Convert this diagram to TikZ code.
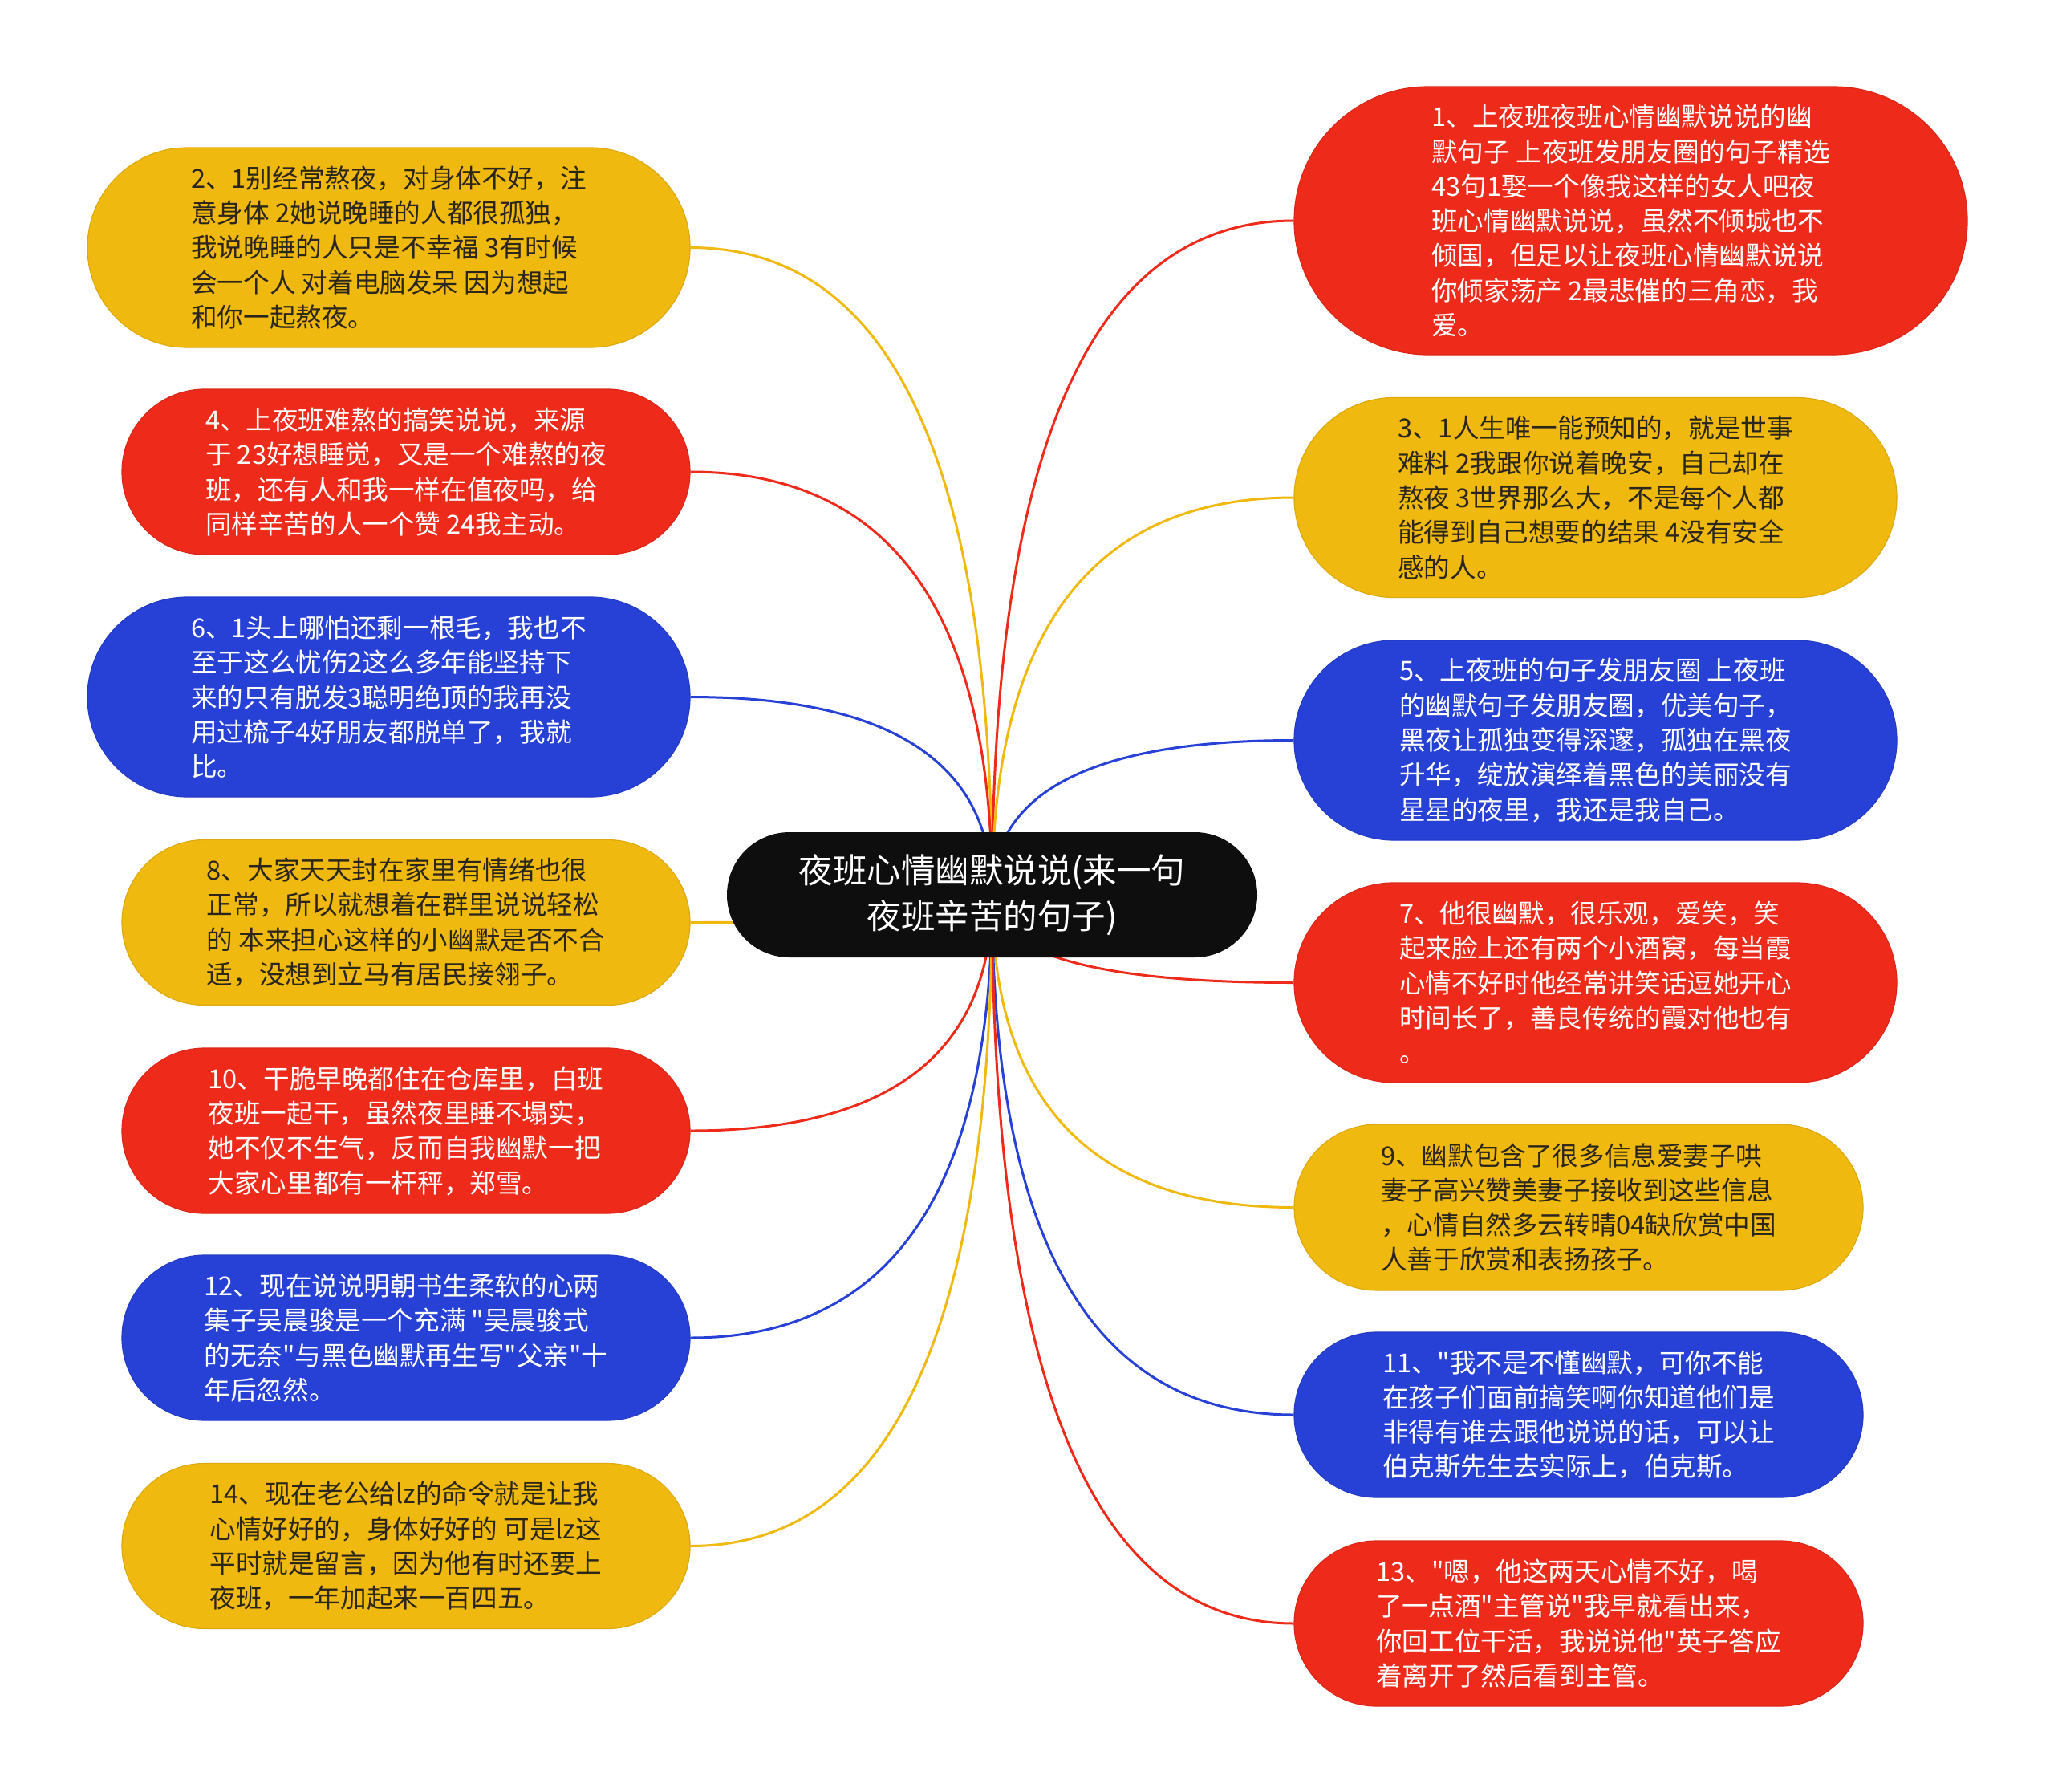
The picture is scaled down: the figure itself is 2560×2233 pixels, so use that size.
\documentclass[tikz,border=0pt]{standalone}
\usepackage{fontspec}
\setmainfont{Noto Sans CJK SC}[Ligatures=TeXOff]
\usetikzlibrary{shapes.misc,backgrounds,calc}
\definecolor{cY}{HTML}{EFB90F}
\definecolor{cR}{HTML}{EE2A1B}
\definecolor{cB}{HTML}{2740D6}
\definecolor{cK}{HTML}{0E0E0E}
\definecolor{tD}{HTML}{2A261C}
\tikzset{
  pill/.style={shape=rounded rectangle, inner sep=0pt, align=left,
    font=\fontsize{32.6}{43.3}\selectfont},
  py/.style={pill, fill=cY, draw=cY!92!black, line width=1.2pt, text=tD},
  pr/.style={pill, fill=cR, draw=cR!92!black, line width=1.2pt, text=white},
  pb/.style={pill, fill=cB, draw=cB!92!black, line width=1.2pt, text=white},
  big/.style={minimum width=751pt, minimum height=249pt},
  small/.style={minimum width=708pt, minimum height=206pt},
  lY/.style={draw=cY, line width=3pt},
  lR/.style={draw=cR, line width=3pt},
  lB/.style={draw=cB, line width=3pt},
}
% quadratic-looking connector from the root centre to an anchor of a child
\newcommand\mmconn[3]{\draw[#1] (root.center) .. controls
  ($(root.center)!0.6667!(root.center |- #2.#3)$) and
  ($(#2.#3)!0.6667!(root.center |- #2.#3)$) .. (#2.#3);}
\begin{document}
\begin{tikzpicture}[x=1pt,y=-1pt]
\useasboundingbox (0,0) rectangle (2560,2233);
% root
\node[shape=rounded rectangle, fill=cK, text=white, inner sep=0pt, align=center,
  minimum width=661pt, minimum height=156pt,
  font=\fontsize{42.5}{57}\selectfont] (root) at (1236.5,1115)
  {夜班心情幽默说说(来一句\\夜班辛苦的句子)};
% left column
\node[py,big] (n2) at (484.5,308.5) {2、1别经常熬夜，对身体不好，注\\意身体 2她说晚睡的人都很孤独，\\我说晚睡的人只是不幸福 3有时候\\会一个人 对着电脑发呆 因为想起\\和你一起熬夜。};
\node[pr,small] (n4) at (506,588) {4、上夜班难熬的搞笑说说，来源\\于 23好想睡觉，又是一个难熬的夜\\班，还有人和我一样在值夜吗，给\\同样辛苦的人一个赞 24我主动。};
\node[pb,big] (n6) at (484.5,868.5) {6、1头上哪怕还剩一根毛，我也不\\至于这么忧伤2这么多年能坚持下\\来的只有脱发3聪明绝顶的我再没\\用过梳子4好朋友都脱单了，我就\\比。};
\node[py,small] (n8) at (506,1149.5) {8、大家天天封在家里有情绪也很\\正常，所以就想着在群里说说轻松\\的 本来担心这样的小幽默是否不合\\适，没想到立马有居民接翎子。};
\node[pr,small] (n10) at (506,1409) {10、干脆早晚都住在仓库里，白班\\夜班一起干，虽然夜里睡不塌实，\\她不仅不生气，反而自我幽默一把\\大家心里都有一杆秤，郑雪。};
\node[pb,small] (n12) at (506,1667) {12、现在说说明朝书生柔软的心两\\集子吴晨骏是一个充满 "吴晨骏式\\的无奈"与黑色幽默再生写"父亲"十\\年后忽然。};
\node[py,small] (n14) at (506,1926.5) {14、现在老公给lz的命令就是让我\\心情好好的，身体好好的 可是lz这\\平时就是留言，因为他有时还要上\\夜班，一年加起来一百四五。};
% right column
\node[pr,minimum width=839pt,minimum height=334pt] (n1) at (2032.5,275) {1、上夜班夜班心情幽默说说的幽\\默句子 上夜班发朋友圈的句子精选\\43句1娶一个像我这样的女人吧夜\\班心情幽默说说，虽然不倾城也不\\倾国，但足以让夜班心情幽默说说\\你倾家荡产 2最悲催的三角恋，我\\爱。};
\node[py,big] (n3) at (1988.5,620) {3、1人生唯一能预知的，就是世事\\难料 2我跟你说着晚安，自己却在\\熬夜 3世界那么大，不是每个人都\\能得到自己想要的结果 4没有安全\\感的人。};
\node[pb,big] (n5) at (1988.5,922.5) {5、上夜班的句子发朋友圈 上夜班\\的幽默句子发朋友圈，优美句子，\\黑夜让孤独变得深邃，孤独在黑夜\\升华，绽放演绎着黑色的美丽没有\\星星的夜里，我还是我自己。};
\node[pr,big] (n7) at (1988.5,1224.5) {7、他很幽默，很乐观，爱笑，笑\\起来脸上还有两个小酒窝，每当霞\\心情不好时他经常讲笑话逗她开心\\时间长了，善良传统的霞对他也有\\。};
\node[py,minimum width=709pt,minimum height=207pt] (n9) at (1967.5,1504.5) {9、幽默包含了很多信息爱妻子哄\\妻子高兴赞美妻子接收到这些信息\\，心情自然多云转晴04缺欣赏中国\\人善于欣赏和表扬孩子。};
\node[pb,minimum width=709pt,minimum height=206pt] (n11) at (1967.5,1763) {11、"我不是不懂幽默，可你不能\\在孩子们面前搞笑啊你知道他们是\\非得有谁去跟他说说的话，可以让\\伯克斯先生去实际上，伯克斯。};
\node[pr,minimum width=709pt,minimum height=206pt] (n13) at (1967.5,2023) {13、"嗯，他这两天心情不好，喝\\了一点酒"主管说"我早就看出来，\\你回工位干活，我说说他"英子答应\\着离开了然后看到主管。};
% connectors
\begin{scope}[on background layer]
\fill[white] (0,0) rectangle (2560,2233);
\mmconn{lY}{n2}{east}
\mmconn{lR}{n4}{east}
\mmconn{lB}{n6}{east}
\mmconn{lY}{n8}{east}
\mmconn{lR}{n10}{east}
\mmconn{lB}{n12}{east}
\mmconn{lY}{n14}{east}
\mmconn{lR}{n1}{west}
\mmconn{lY}{n3}{west}
\mmconn{lB}{n5}{west}
\mmconn{lR}{n7}{west}
\mmconn{lY}{n9}{west}
\mmconn{lB}{n11}{west}
\mmconn{lR}{n13}{west}
\end{scope}
\end{tikzpicture}
\end{document}
